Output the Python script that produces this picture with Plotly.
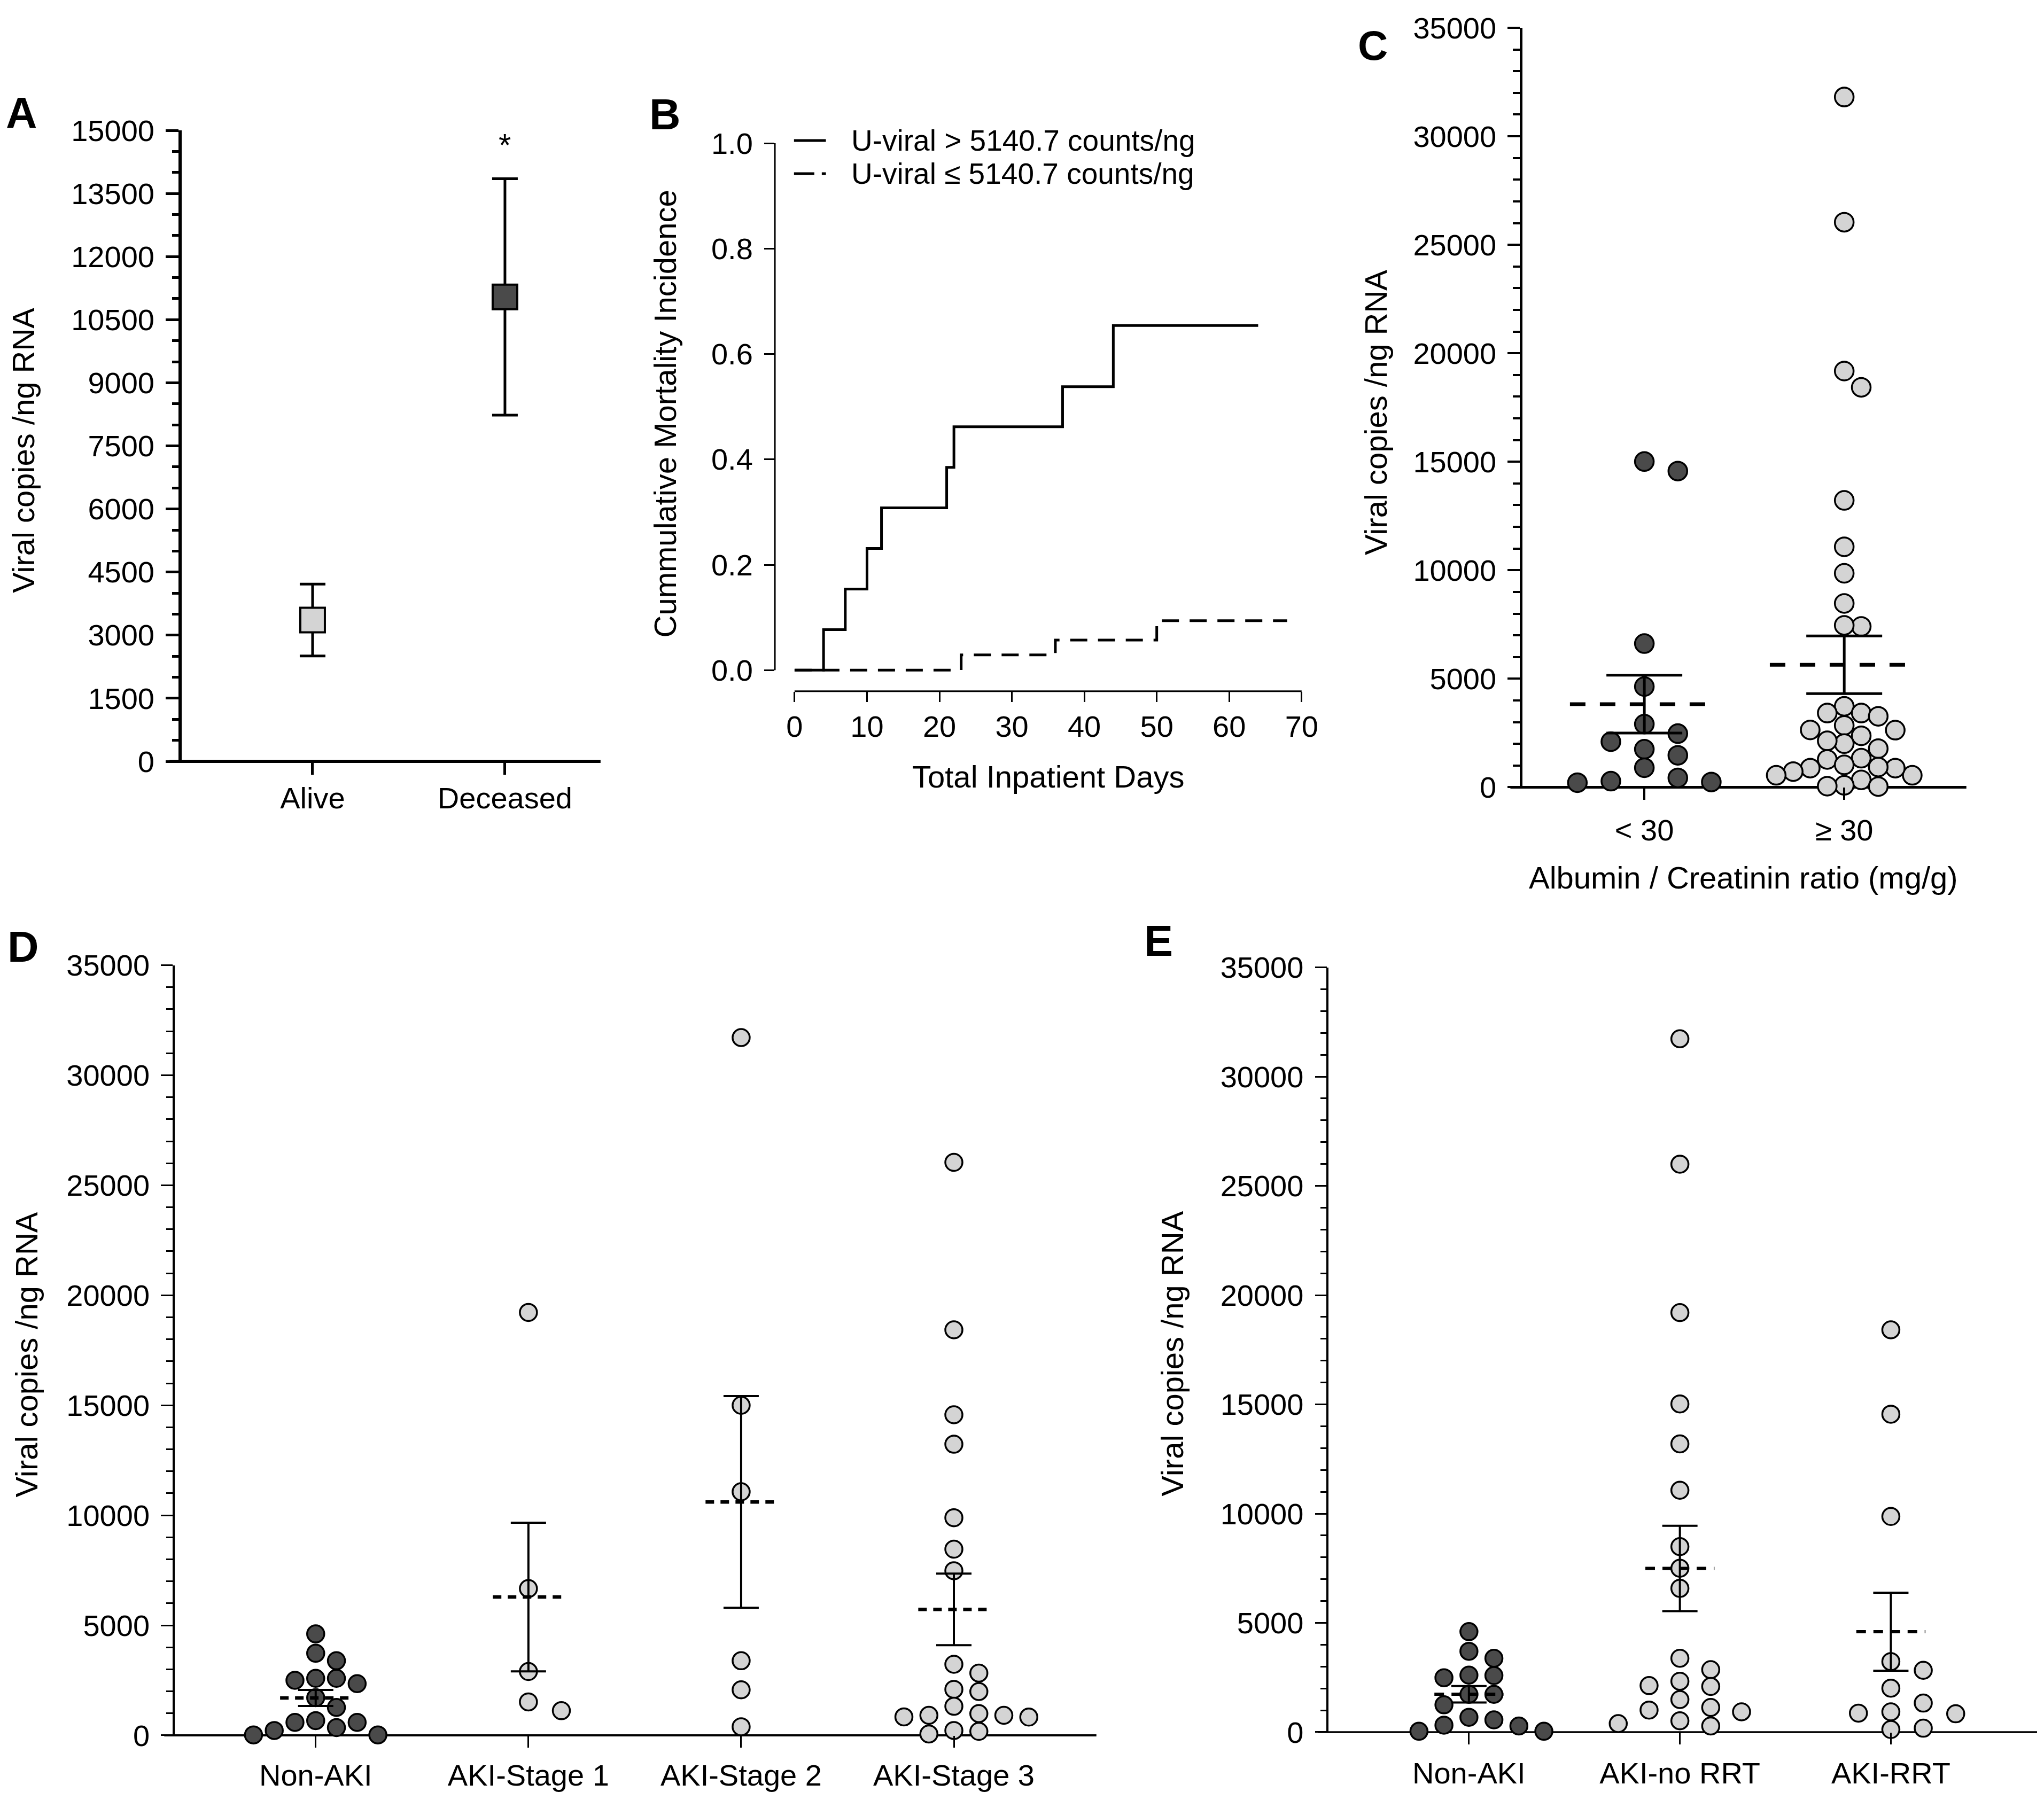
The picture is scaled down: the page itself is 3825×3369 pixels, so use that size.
import numpy as np
import plotly.graph_objects as go

W, H = 3825, 3369
FONT = "Liberation Sans, Arial, Helvetica, sans-serif"

# ---------------- data ----------------
# Panel A: mean +/- SEM
a_groups = ["Alive", "Deceased"]
a_mean = [3360, 11040]
a_sem = [855, 2810]

# Panel B: cumulative mortality incidence (step curves)
b_hi_days = [0, 4, 7, 10, 12, 21, 22, 37, 44, 64]
b_hi_cmi = [0.0, 0.077, 0.154, 0.231, 0.308, 0.385, 0.462, 0.538, 0.654, 0.654]
b_lo_days = [0, 23, 36, 50, 68]
b_lo_cmi = [0.0, 0.029, 0.057, 0.094, 0.094]
b_names = ["U-viral > 5140.7 counts/ng", "U-viral ≤ 5140.7 counts/ng"]

# Panel C: albumin / creatinin ratio groups
c_cats = ["< 30", "≥ 30"]
c_lt30 = [14570, 15010, 6620, 4640, 2910, 2470, 2100, 1750, 1470, 900, 240, 280, 430, 210]
c_ge30 = [31810, 26040, 19180, 18430, 13220, 11080, 9860, 8470, 7410, 7460,
          3730, 3420, 3420, 3270, 2850, 2630, 2640, 2370, 2010, 2140, 1780, 1340,
          1280, 880, 550, 880, 1030, 720, 550, 930, 340, 30, 90, 50]

# Panel D: AKI stages
d_cats = ["Non-AKI", "AKI-Stage 1", "AKI-Stage 2", "AKI-Stage 3"]
d_non_aki = [4610, 3730, 3390, 2500, 2590, 2590, 2350, 1710, 1270, 670, 590, 590, 350, 220, 20, 20]
d_stage1 = [19220, 6670, 2900, 1120, 1520]
d_stage2 = [31710, 15000, 11070, 3390, 2070, 390]
d_stage3 = [26040, 18430, 14570, 13230, 9890, 8460, 7480, 3230, 2830, 1990, 2090, 1320,
            830, 910, 840, 990, 910, 60, 180, 220]

# Panel E: renal replacement therapy
e_cats = ["Non-AKI", "AKI-no RRT", "AKI-RRT"]
e_non_aki = [4600, 3700, 3380, 2490, 2610, 2590, 1730, 1730, 1250, 680, 560, 280, 40, 40, 320]
e_no_rrt = [31730, 25990, 19200, 15020, 13190, 11070, 8490, 7500, 6580, 3380, 2860, 2330,
            2130, 2090, 1490, 1010, 930, 1130, 520, 280, 390]
e_rrt = [18410, 14550, 9870, 3230, 2830, 2010, 1330, 840, 930, 870, 120, 180]

# ---------------- styling / layout ----------------
DARK = "#4a4a4a"
LIGHT = "#d4d4d4"


def Y(y):
    # vertical placement correction (target pixel -> layout pixel)
    return (y - 39) / 0.981


# panel boxes in target pixels (left, right, top, bottom)
BOX = {
    "A": (334, 1122, 244, 1424.6),
    "B": (1450, 2451, 228.6, 1293.4),
    "C": (2857, 3692, 52, 1473),
    "D": (321, 2055, 1806, 3247),
    "E": (2492, 3825, 1810, 3241),
}
XR = {"A": [-0.68, 1.497], "C": [-0.609, 1.611], "D": [-0.662, 3.670], "E": [-0.665, 2.693]}
YMAX = 35000


def dom(box):
    l, r, t, b = box
    return [l / W, r / W], [1 - Y(b) / H, min(1.0, 1 - Y(t) / H)]


def P(x, y):
    return x / W, 1 - Y(y) / H


fig = go.Figure()
layout = dict(width=W, height=H, margin=dict(l=0, r=0, t=0, b=0),
              paper_bgcolor="white", plot_bgcolor="white", showlegend=False,
              font=dict(family=FONT, size=56, color="black"))
shapes = []
annotations = []
tickfont = dict(family=FONT, size=56, color="black")


def prism_axes(key, idx, cats, ymax, ydt, yminor, lw, tl, tw, mtl, ext, xstand):
    xd, yd = dom(BOX[key])
    xs = "xaxis" if idx == 1 else f"xaxis{idx}"
    ys = "yaxis" if idx == 1 else f"yaxis{idx}"
    xn = "x" if idx == 1 else f"x{idx}"
    yn = "y" if idx == 1 else f"y{idx}"
    layout[xs] = dict(domain=xd, range=XR[key], anchor=yn, tickmode="array",
                      tickvals=list(range(len(cats))), ticktext=cats, ticks="outside",
                      ticklen=tl, tickwidth=tw, tickcolor="black", showline=False,
                      showgrid=False, zeroline=False, tickfont=tickfont,
                      ticklabelstandoff=xstand, fixedrange=True)
    layout[ys] = dict(domain=yd, range=[0, ymax], anchor=xn, tick0=0, dtick=ydt,
                      tickformat="d",
                      showline=True, linewidth=lw, linecolor="black", ticks="outside",
                      ticklen=tl, tickwidth=tw, tickcolor="black",
                      minor=dict(ticks="outside", dtick=yminor, ticklen=mtl,
                                 tickwidth=tw, tickcolor="black"),
                      showgrid=False, zeroline=False, tickfont=tickfont,
                      ticklabelstandoff=10, layer="below traces", fixedrange=True)
    pw = BOX[key][1] - BOX[key][0]
    shapes.append(dict(type="line", xref=f"{xn} domain", yref=f"{yn} domain",
                       x0=-ext / pw, x1=1, y0=0, y1=0,
                       line=dict(color="black", width=lw), layer="below"))
    return xn, yn


def swarm_offsets(vals, px_per_val, step_px, diam_px, px_per_cat):
    v = np.asarray(vals, float)
    order = np.argsort(-v, kind="stable")
    placed = []
    off = np.zeros(len(v))
    cands = [0]
    for j in range(1, 30):
        cands += [j, -j]
    for i in order:
        y = v[i] * px_per_val
        chosen = 0
        for c in cands:
            if all(not (c == pc and abs(y - py) < diam_px) for pc, py in placed):
                chosen = c
                break
        placed.append((chosen, y))
        off[i] = chosen * step_px / px_per_cat
    return off


def scatter_group(key, xn, yn, i, vals, fill, step, size, mean_hw_px, cap, ew, mw, dash):
    l, r, t, b = BOX[key]
    px_per_val = (b - t) / YMAX
    rng = XR[key]
    px_per_cat = (r - l) / (rng[1] - rng[0])
    off = swarm_offsets(vals, px_per_val, step, size - 1, px_per_cat)
    fig.add_trace(go.Scatter(x=i + off, y=vals, mode="markers", xaxis=xn, yaxis=yn,
                             marker=dict(size=size, color=fill, line=dict(color="black", width=3.5)),
                             cliponaxis=False, showlegend=False, hoverinfo="y"))
    m = float(np.mean(vals))
    s = float(np.std(vals, ddof=1) / np.sqrt(len(vals)))
    hw = mean_hw_px / px_per_cat
    return (xn, yn, i, m, s, hw, cap, ew, mw, dash)


def draw_stats(st):
    xn, yn, i, m, s, hw, cap, ew, mw, dash = st
    fig.add_trace(go.Scatter(x=[i - hw, i + hw], y=[m, m], mode="lines", xaxis=xn, yaxis=yn,
                             line=dict(color="black", width=mw, dash=dash),
                             cliponaxis=False, showlegend=False, hoverinfo="skip"))
    fig.add_trace(go.Scatter(x=[i], y=[m], mode="markers", xaxis=xn, yaxis=yn,
                             marker=dict(size=1, color="rgba(0,0,0,0)"),
                             error_y=dict(type="data", array=[s], color="black",
                                          thickness=ew, width=cap),
                             cliponaxis=False, showlegend=False, hoverinfo="skip"))


# ---------------- Panel A ----------------
xa, ya = prism_axes("A", 1, a_groups, 15000, 1500, 500, 6, 24, 5, 12, 23, -4)
fig.add_trace(go.Scatter(x=list(range(len(a_groups))), y=a_mean, mode="markers",
                         xaxis=xa, yaxis=ya,
                         marker=dict(symbol="square", size=46, color=[LIGHT, DARK],
                                     line=dict(color="black", width=4)),
                         error_y=dict(type="data", array=a_sem, color="black",
                                      thickness=5, width=24),
                         showlegend=False, cliponaxis=False))
annotations.append(dict(text="*", x=1, y=a_mean[1] + a_sem[1] + 950, xref=xa, yref=ya,
                        showarrow=False, font=dict(family=FONT, size=60, color="black"),
                        xanchor="center", yanchor="middle", yshift=-12))

# ---------------- Panel B ----------------
xd, yd = dom(BOX["B"])
layout["xaxis2"] = dict(domain=xd, range=[-2.72, 70.72], anchor="y2", tickmode="array",
                        tickvals=list(range(0, 71, 10)), ticks="outside", ticklen=19,
                        tickwidth=3, tickcolor="black", showline=False, showgrid=False,
                        zeroline=False, tickfont=tickfont, ticklabelstandoff=-2, fixedrange=True)
layout["yaxis2"] = dict(domain=yd, range=[-0.04, 1.04], anchor="x2", tickmode="array",
                        tickvals=[0, 0.2, 0.4, 0.6, 0.8, 1.0], tickformat=".1f",
                        ticks="outside", ticklen=19, tickwidth=3, tickcolor="black",
                        showline=False, showgrid=False, zeroline=False, tickfont=tickfont,
                        ticklabelstandoff=10, fixedrange=True)
shapes.append(dict(type="line", xref="x2", yref="y2 domain", x0=0, x1=70, y0=0, y1=0,
                   line=dict(color="black", width=3)))
shapes.append(dict(type="line", xref="x2 domain", yref="y2", x0=0, x1=0, y0=0, y1=1,
                   line=dict(color="black", width=3)))
fig.add_trace(go.Scatter(x=b_hi_days, y=b_hi_cmi, mode="lines", line_shape="hv",
                         line=dict(color="black", width=5), xaxis="x2", yaxis="y2",
                         name=b_names[0], showlegend=False))
fig.add_trace(go.Scatter(x=b_lo_days, y=b_lo_cmi, mode="lines", line_shape="hv",
                         line=dict(color="black", width=5, dash="32px,20px"),
                         xaxis="x2", yaxis="y2", name=b_names[1], showlegend=False))
# legend (drawn manually to match tight spacing)
for k, (yy, dsh) in enumerate([(263, "solid"), (325, "38px,14px")]):
    x0p, y0p = P(1486, yy)
    x1p, _ = P(1546, yy)
    shapes.append(dict(type="line", xref="paper", yref="paper", x0=x0p, x1=x1p, y0=y0p, y1=y0p,
                       line=dict(color="black", width=5, dash=dsh)))
    tx, ty = P(1592, yy)
    annotations.append(dict(text=b_names[k], x=tx, y=ty, xref="paper", yref="paper",
                            showarrow=False, xanchor="left", yanchor="middle",
                            font=dict(family=FONT, size=55, color="black")))

# ---------------- Panel C ----------------
xc, yc = prism_axes("C", 3, c_cats, YMAX, 5000, 1000, 5, 23, 4, 13, 23, 8)
stats = []
stats.append(scatter_group("C", xc, yc, 0, c_lt30, DARK, 63, 35, 140, 71, 5, 7, "29px,27px"))
stats.append(scatter_group("C", xc, yc, 1, c_ge30, LIGHT, 32, 35, 140, 71, 5, 7, "29px,27px"))
for st in stats:
    draw_stats(st)

# ---------------- Panel D ----------------
xdd, ydd = prism_axes("D", 4, d_cats, YMAX, 5000, 1000, 4, 22, 3, 12, 20, 4)
stats = []
d_groups = [d_non_aki, d_stage1, d_stage2, d_stage3]
d_fill = [DARK, LIGHT, LIGHT, LIGHT]
d_step = [39, 62, 47, 47]
for i, g in enumerate(d_groups):
    stats.append(scatter_group("D", xdd, ydd, i, g, d_fill[i], d_step[i], 32, 67, 33, 4, 6.5, "16px,12px"))
for st in stats:
    draw_stats(st)

# ---------------- Panel E ----------------
xe, ye = prism_axes("E", 5, e_cats, YMAX, 5000, 1000, 3.5, 22, 3, 12, 20, 6)
stats = []
e_groups = [e_non_aki, e_no_rrt, e_rrt]
e_fill = [DARK, LIGHT, LIGHT]
e_step = [47, 58, 61]
for i, g in enumerate(e_groups):
    stats.append(scatter_group("E", xe, ye, i, g, e_fill[i], e_step[i], 32, 65, 33, 4, 6, "18px,14px"))
for st in stats:
    draw_stats(st)


# ---------------- text ----------------
def ann(text, x, y, size=58, angle=0, anchor="center", vanchor="middle"):
    xp, yp = P(x, y)
    if vanchor == "top":
        yp = 1.0
    annotations.append(dict(text=text, x=xp, y=yp, xref="paper", yref="paper",
                            showarrow=False, xanchor=anchor, yanchor=vanchor,
                            textangle=angle, font=dict(family=FONT, size=size, color="black")))


for letter, (lx, ly) in {"A": (33, 211), "B": (1243, 214),
                         "D": (36, 1771), "E": (2172, 1760)}.items():
    ann(f"<b>{letter}</b>", lx, ly, size=81)
ann("<b>C</b>", 2575, 0, size=78, vanchor="top")

ann("Viral copies /ng RNA", 35, 843, angle=-90)
ann("Cummulative Mortality Incidence", 1243, 774, angle=-90)
ann("Total Inpatient Days", 1964, 1453)
ann("Viral copies /ng RNA", 2580, 772, angle=-90)
ann("Albumin / Creatinin ratio (mg/g)", 3272, 1642)
ann("Viral copies /ng RNA", 42, 2535, angle=-90)
ann("Viral copies /ng RNA", 2198, 2533, angle=-90)

layout["shapes"] = shapes
layout["annotations"] = annotations
fig.update_layout(**layout)
fig.write_html("out.html")
